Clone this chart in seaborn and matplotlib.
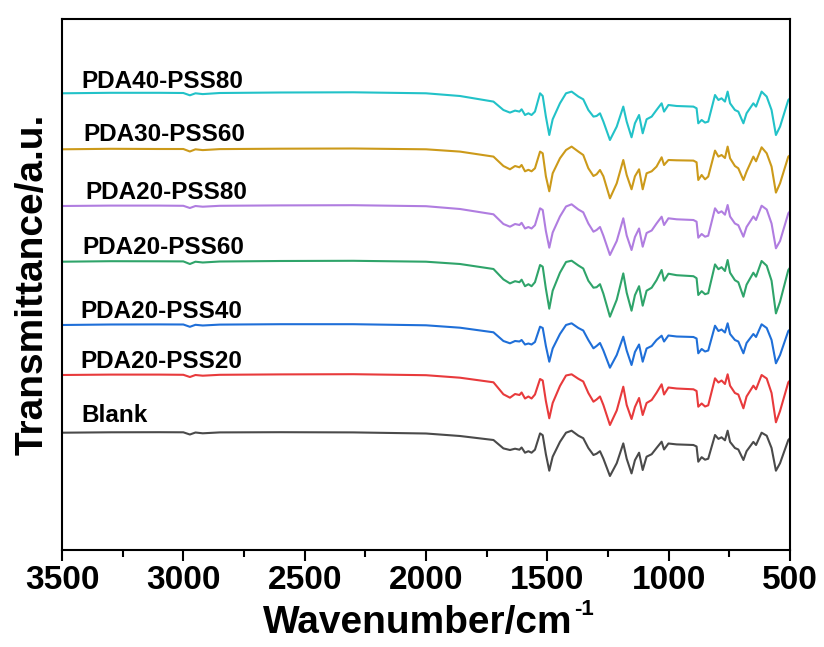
import numpy as np
import pandas as pd
import matplotlib
matplotlib.use("Agg")
import matplotlib.pyplot as plt
from matplotlib.ticker import MultipleLocator
import seaborn as sns

# ---------- data ----------
wavenumber = [3500, 3300, 3100, 3000, 2973, 2950, 2920, 2850, 2600, 2300, 2000, 1860,
              1722, 1681, 1654, 1633, 1615, 1606, 1592, 1578, 1565, 1551, 1530, 1519,
              1506, 1492, 1478, 1448, 1423, 1400, 1372, 1352, 1331, 1310, 1297, 1283,
              1269, 1242, 1214, 1187, 1173, 1153, 1139, 1122, 1107, 1091, 1070, 1050,
              1029, 1019, 1001, 967, 898, 885, 878, 864, 850, 837, 809, 795, 782, 768,
              757, 747, 727, 713, 692, 679, 651, 640, 617, 596, 576, 558, 541, 507, 500]

# band depth below each trace's own 3500 cm-1 level (a.u.)
dip_blank = [0, -0.4, -0.5, -0.4, 1.8, -0.2, 0.6, -0.3, -0.5, -0.3, 0.8, 3.3,
             7.3, 15.7, 17.3, 16, 17, 14.8, 20, 18.5, 20, 17, 0.7, 2.5,
             21.5, 38, 24, 9.2, 0, -2, 3, 5.5, 15.3, 22.3, 21, 18.5,
             26, 43.3, 30.5, 10.7, 26, 40.7, 27.5, 20, 37.3, 24, 21.5, 15.3,
             9, 16.8, 10.8, 11.7, 12.3, 13.8, 29, 24.5, 27, 26, 2.3, 6.2, 4.6, 7.6,
             -2, 9.2, 15.3, 16.8, 27.3, 18.5, 9.2, 12.3, 0, 3, 15.3, 38, 30.5, 7.3, 5.5]
dip_pss20 = [0, -0.4, -0.4, -0.2, 2.0, 0, 0.7, -0.2, -0.6, -0.8, 0.2, 2.7,
             7.3, 19.3, 22.7, 19, 20, 17.5, 23.5, 21.5, 23.5, 19.5, 4, 5.5,
             26, 43.3, 28, 11, 0.5, -0.7, 3.8, 6.5, 18, 26.7, 24.5, 21.5,
             30, 50, 35.5, 11.7, 30, 44, 32, 23, 40, 28, 25, 17.8,
             9.3, 19.5, 12.5, 13.5, 14.3, 16, 31.7, 28.5, 31.5, 30.3, 3.3, 7.5, 5.5, 9,
             -0.7, 10.7, 18, 19.5, 33.3, 21.5, 10.7, 14.3, 0, 3.5, 18, 47.3, 36, 7.3, 5.5]
dip_pss40 = [0, -0.5, -0.6, -0.5, 1.8, -0.2, 0.5, -0.4, -0.8, -0.8, 0.3, 2.7,
             7.3, 16, 18.3, 16, 16.5, 15, 19.5, 18.5, 19.5, 17, 1.7, 3,
             21, 36.7, 23.5, 9, 0, -1.7, 3, 5.5, 15, 23.3, 21, 18,
             25.5, 42.7, 30, 11.7, 25.5, 40, 27, 19.5, 36.7, 23.5, 21, 15,
             10.7, 16.5, 10.5, 11.5, 12, 13.5, 28.3, 24, 26.5, 25.5, 0.7, 6, 4.5, 7.5,
             -1.7, 9, 15, 16.5, 28.3, 18, 9, 12, -0.7, 3, 15, 38.3, 30, 6, 4.5]
dip_pss60 = [0, -0.5, -0.4, -0.3, 2.3, 0, 0.8, -0.2, -0.7, -0.9, 0, 2.3,
             7.3, 17.7, 21.7, 19.5, 20.5, 18, 24.5, 22.5, 24.5, 20.5, 3.3, 5,
             27, 47, 29, 11, 0.3, -1, 3.8, 6.8, 19, 26, 25.5, 22.5,
             32, 55, 38, 11.7, 31, 49, 33.5, 24.5, 44, 29, 26, 18.5,
             8.3, 19, 12, 13.5, 14.5, 16.5, 33.3, 29.5, 32.5, 31.5, 2.7, 7.5, 5.5, 9.3,
             -1.7, 11, 18.5, 20.5, 35, 23, 11, 15, -0.7, 4, 19, 51.7, 40, 8.3, 6]
dip_pss80 = [0, -0.4, -0.4, -0.2, 2.0, 0, 0.7, -0.2, -0.6, -0.8, 0.2, 3,
             8.3, 18, 20.7, 18, 19, 16.8, 22.5, 21, 22.5, 19.2, 2.3, 4,
             25, 41.7, 26.5, 10.5, 0.5, -1.7, 3.5, 6.3, 17.5, 25.7, 24, 21,
             29.7, 49, 35, 12.3, 29.5, 44, 31, 22.5, 40.7, 27, 24.5, 17.5,
             10.7, 19, 12.3, 13.3, 14, 15.7, 31.7, 28, 30.7, 29.7, 2.3, 7, 5.3, 8.7,
             -1, 10.5, 17.5, 19.2, 30.7, 21, 10.5, 14, -0.3, 3.5, 17.5, 42.3, 35, 7.3, 5.3]
dip_pda30 = [0, -0.5, -0.3, -0.3, 2.2, 0, 0.8, -0.2, -0.6, -0.8, 0, 2.3,
             7.3, 16.7, 20, 16.7, 18, 15.7, 22, 20.5, 22, 19, 2.3, 4,
             27, 42, 24, 9, 0.7, -2.7, 2.3, 5.7, 19, 26.7, 25, 20.7,
             27, 49, 34, 10.7, 25.7, 40, 27, 20, 40, 24, 22, 17.3,
             8, 15.7, 10.7, 11, 11.3, 13, 30.7, 25.7, 30, 27.3, 1.3, 7.3, 5.7, 8.7,
             -2.7, 9, 16.7, 19, 30.7, 22.3, 7.3, 12, -2, 4, 17.3, 43.3, 34, 7.3, 6]
dip_pda40 = [0, -0.5, -0.5, -0.3, 2.0, 0, 0.8, -0.3, -0.8, -1, 0, 2.7,
             8.3, 16.7, 19.3, 17.3, 18.3, 16, 21.7, 20, 21.7, 18.3, 0, 2.7,
             23.3, 41.7, 26, 10, 0, -1.7, 3.3, 6, 16.7, 23.3, 22.7, 20,
             28.3, 46.7, 33.3, 13.3, 28.3, 44, 30, 21.7, 40, 26, 23.3, 16.7,
             10, 18.3, 11.7, 12.7, 13.3, 15, 30, 26.7, 29.3, 28.3, 1.7, 6.7, 5, 8.3,
             -1.7, 10, 16.7, 18.3, 30, 20, 10, 13.3, -1.7, 3.3, 16.7, 41.7, 33.3, 6.7, 5]

samples = ["Blank", "PDA20-PSS20", "PDA20-PSS40", "PDA20-PSS60",
           "PDA20-PSS80", "PDA30-PSS60", "PDA40-PSS80"]
dips = [dip_blank, dip_pss20, dip_pss40, dip_pss60, dip_pss80, dip_pda30, dip_pda40]
offsets = [117.3, 175, 225, 288.3, 344, 400.7, 456.7]      # stacking offset of each trace
label_x = [3419, 3426, 3426, 3415, 3405, 3412, 3419]
label_y = [128, 181.5, 232, 295.5, 350.8, 408.8, 461.5]
colors = ["#4a4a4a", "#e83a3c", "#1f6fd8", "#2fa46a", "#b07de0", "#cc9a1a", "#22c2c8"]

# ---------- build long table ----------
rows = []
for name, dip, off in zip(samples, dips, offsets):
    for w, d in zip(wavenumber, dip):
        rows.append({"wavenumber": w, "T": off - d, "sample": name})
df = pd.DataFrame(rows)

# ---------- plot ----------
sns.set_theme(style="ticks")
plt.rcParams["font.family"] = ["Liberation Sans", "DejaVu Sans"]
plt.rcParams["font.weight"] = "bold"
plt.rcParams["text.color"] = "black"
plt.rcParams["axes.labelcolor"] = "black"
plt.rcParams["xtick.color"] = "black"

fig = plt.figure(figsize=(8.24, 6.47), dpi=100)
ax = fig.add_axes([62 / 824, 1 - 550 / 647, (790 - 62) / 824, (550 - 19) / 647])

sns.lineplot(data=df, x="wavenumber", y="T", hue="sample", hue_order=samples,
             palette=colors, sort=False, estimator=None, legend=False,
             linewidth=1.5, ax=ax)

for name, lx, ly in zip(samples, label_x, label_y):
    ax.text(lx, ly, name, fontsize=17.5, fontweight="bold", color="black",
            ha="left", va="baseline")

ax.set_xlim(3500, 500)
ax.set_ylim(0, 531)
ax.xaxis.set_major_locator(MultipleLocator(500))
ax.xaxis.set_minor_locator(MultipleLocator(250))
ax.set_yticks([])
ax.tick_params(axis="x", which="major", direction="out", length=8, width=1.5,
               labelsize=24, pad=3, colors="black")
ax.tick_params(axis="x", which="minor", direction="out", length=5, width=1.5,
               colors="black")
for lab in ax.get_xticklabels():
    lab.set_fontweight("bold")
for sp in ax.spines.values():
    sp.set_visible(True)
    sp.set_linewidth(1.5)
    sp.set_color("black")

ax.set_xlabel("Wavenumber/cm", fontsize=28, fontweight="bold", labelpad=6)
ax.set_ylabel("Transmittance/a.u.", fontsize=28, fontweight="bold", labelpad=8)

# small superscript "-1" after the x label
ax.xaxis.label.set_x(0.5 - 0.012)
fig.canvas.draw()
bb = ax.xaxis.label.get_window_extent().transformed(fig.transFigure.inverted())
fig.text(bb.x1 + 0.002, bb.y1 - 10 / 647, "-1", fontsize=16, fontweight="bold",
         color="black", ha="left", va="baseline")

fig.savefig("out.png", dpi=100)
